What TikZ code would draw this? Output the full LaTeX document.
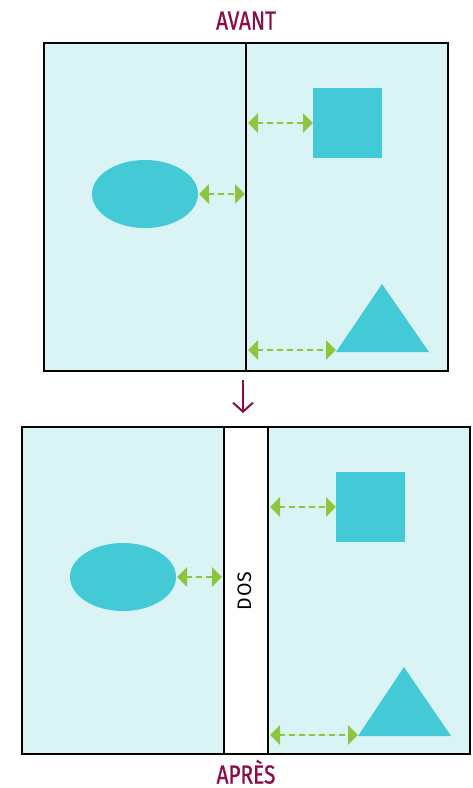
\documentclass[tikz,border=0pt]{standalone}
\usepackage{fontspec}
\setmainfont{Fira Sans}[FakeStretch=0.82]
\newfontfamily\titlefont{Fira Sans}[FakeStretch=0.8, FakeBold=0.9]
\newfontfamily\dosfont{Fira Sans}[LetterSpace=4]
\usetikzlibrary{arrows.meta}
\definecolor{bg}{HTML}{DAF4F6}
\definecolor{shp}{HTML}{44CAD6}
\definecolor{grn}{HTML}{8CC63F}
\definecolor{mar}{HTML}{8B0B4B}
\newcommand{\titlesize}{\titlefont\fontsize{26pt}{30pt}\selectfont}
\newcommand{\dossize}{\dosfont\fontsize{19.5pt}{22pt}\selectfont}
\tikzset{
  page/.style={draw=black, line width=2.2pt, fill=bg},
  figshape/.style={fill=shp, draw=none},
  gap/.style={draw=grn, line width=2.2pt, dash pattern=on 6pt off 4pt,
    {Triangle[width=19pt,length=10pt]}-{Triangle[width=19pt,length=10pt]}, fill=grn},
  heading/.style={text=mar, inner sep=0pt, anchor=base, text depth=0pt},
}
\begin{document}
\begin{tikzpicture}[x=1pt,y=-1pt]
\useasboundingbox (0,0) rectangle (472,788);
% titles
\node[heading] (avant) at (246,29.5) {\titlesize AVANT};
\node[heading] (apres) at (246,783.5) {\titlesize APRÈS};
% top book
\draw[page] (44,43) rectangle (448,371);
\draw[line width=2.4pt] (246,43) -- (246,371);
\fill[figshape] (145,194) ellipse [x radius=53, y radius=34];
\node[figshape, minimum width=69pt, minimum height=70pt, inner sep=0pt, anchor=north west] (tsq) at (313,88) {};
\fill[figshape] (336,352) -- (382,284) -- (429,352) -- cycle;
\coordinate (tsqL) at (248,123); \coordinate (tsqR) at (313,123);
\coordinate (telL) at (199,194); \coordinate (telR) at (245,194);
\coordinate (ttrL) at (248,350); \coordinate (ttrR) at (336,350);
\draw[gap] (tsqL) -- (tsqR);
\draw[gap] (telL) -- (telR);
\draw[gap] (ttrL) -- (ttrR);
% arrow down
\coordinate (da) at (243,380); \coordinate (db) at (243,413);
\draw[mar, line width=2pt, -{Straight Barb[length=9pt,width=20pt]}] (da) -- (db);
% bottom book
\draw[page] (22,427) rectangle (470,754);
\draw[line width=2.2pt, fill=white] (224,427) rectangle (268,754);
\node[rotate=90, inner sep=0pt] (dos) at (244.5,591) {\dossize DOS};
\fill[figshape] (123,577) ellipse [x radius=53, y radius=34];
\node[figshape, minimum width=69pt, minimum height=70pt, inner sep=0pt, anchor=north west] (bsq) at (336,472) {};
\fill[figshape] (358,736) -- (404,667) -- (451,736) -- cycle;
\coordinate (bsqL) at (270,507); \coordinate (bsqR) at (336,507);
\coordinate (belL) at (177,577); \coordinate (belR) at (222,577);
\coordinate (btrL) at (270,735); \coordinate (btrR) at (358,735);
\draw[gap] (bsqL) -- (bsqR);
\draw[gap] (belL) -- (belR);
\draw[gap] (btrL) -- (btrR);
\end{tikzpicture}
\end{document}
